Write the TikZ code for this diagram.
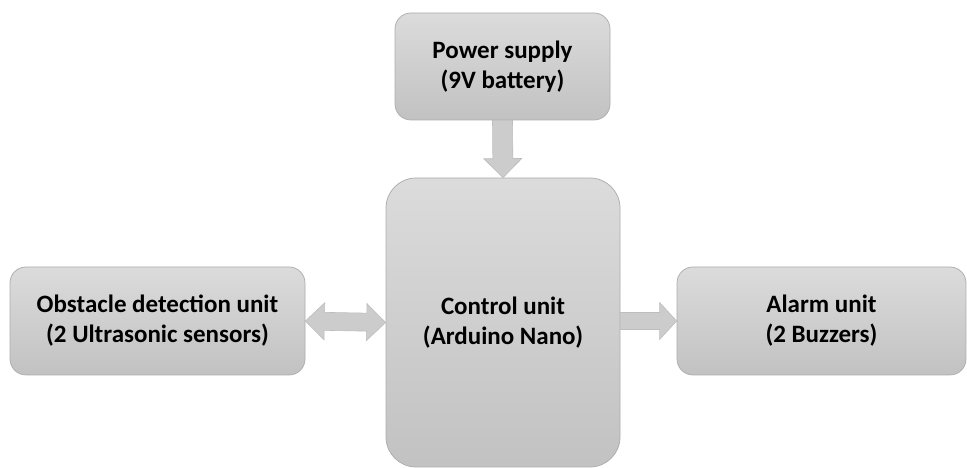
\documentclass[tikz,border=0pt]{standalone}
\usepackage{fontspec}
\setmainfont{Carlito}
\usetikzlibrary{calc}
\definecolor{BoxLine}{gray}{0.68}
\definecolor{BoxTop}{gray}{0.86}
\definecolor{BoxBot}{gray}{0.76}
\definecolor{ArrowClr}{gray}{0.80}
\definecolor{ArrowLine}{gray}{0.74}

\tikzset{
  blockbox/.style={draw=BoxLine,line width=.75pt,top color=BoxTop,bottom color=BoxBot,
    rounded corners=16pt,align=center,inner sep=0pt,
    font=\fontsize{25}{30}\selectfont\bfseries},
  fat/.style={draw=ArrowLine,fill=ArrowClr,line width=.6pt,line join=miter}
}

% #1 from, #2 to, #3 half shaft, #4 half head, #5 head length
\newcommand{\FatArrow}[5]{%
  \path (#1) coordinate (s) (#2) coordinate (e) ($(e)!#5!(s)$) coordinate (h);
  \draw[fat] ($(s)!#3!90:(e)$) -- ($(h)!#3!90:(e)$) -- ($(h)!#4!90:(e)$) -- (e)
    -- ($(h)!#4!-90:(e)$) -- ($(h)!#3!-90:(e)$) -- ($(s)!#3!-90:(e)$) -- cycle;
}
\newcommand{\FatDoubleArrow}[5]{%
  \path (#1) coordinate (s) (#2) coordinate (e)
    ($(e)!#5!(s)$) coordinate (h) ($(s)!#5!(e)$) coordinate (g);
  \draw[fat] (s) -- ($(g)!#4!90:(e)$) -- ($(g)!#3!90:(e)$) -- ($(h)!#3!90:(e)$)
    -- ($(h)!#4!90:(e)$) -- (e) -- ($(h)!#4!-90:(e)$) -- ($(h)!#3!-90:(e)$)
    -- ($(g)!#3!-90:(e)$) -- ($(g)!#4!-90:(e)$) -- cycle;
}

\begin{document}
\begin{tikzpicture}[x=1pt,y=1pt]
\useasboundingbox (0,0) rectangle (967,468);

\node[blockbox,minimum width=215pt,minimum height=107pt] (power) at (502.5,401.5)
  {Power supply\\(9V battery)};
\node[blockbox,rounded corners=30pt,minimum width=234pt,minimum height=289pt] (control) at (503,145.5)
  {Control unit\\(Arduino Nano)};
\node[blockbox,minimum width=295pt,minimum height=108pt] (obstacle) at (157.5,147)
  {Obstacle detection unit\\(2 Ultrasonic sensors)};
\node[blockbox,minimum width=289pt,minimum height=108pt] (alarm) at (821.5,147)
  {Alarm unit\\(2 Buzzers)};

\FatArrow{power.south}{control.north}{10pt}{19pt}{19pt}
\FatDoubleArrow{obstacle.east}{control.west}{9pt}{18.5pt}{19pt}
\FatArrow{control.east |- alarm.west}{alarm.west}{8.5pt}{18.5pt}{17pt}

\end{tikzpicture}
\end{document}
